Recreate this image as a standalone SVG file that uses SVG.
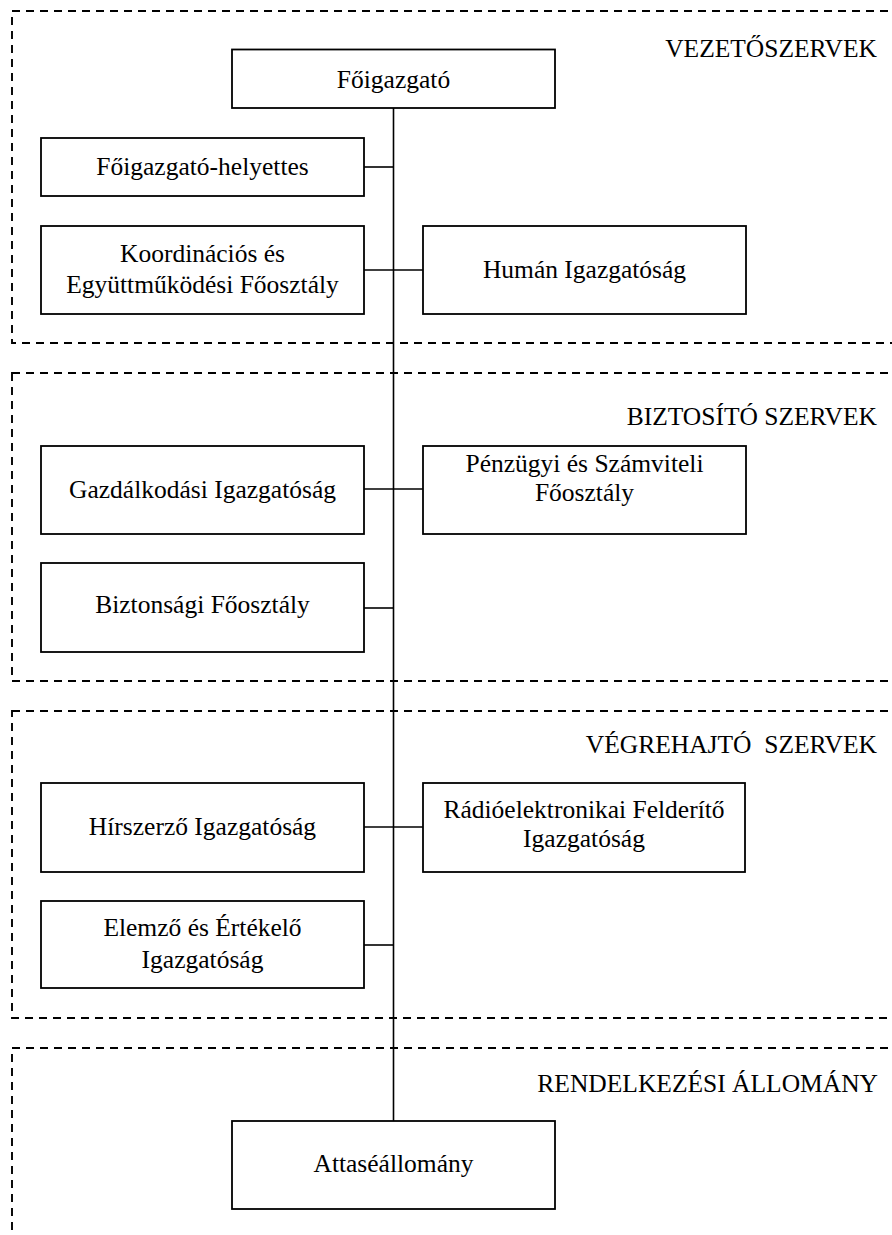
<svg xmlns="http://www.w3.org/2000/svg" width="892" height="1235" viewBox="0 0 892 1235">
<style>
.sec{fill:none;stroke:#000;stroke-width:1.9;stroke-dasharray:8 6}
.box{fill:#fff;stroke:#000;stroke-width:1.8}
.ln{fill:none;stroke:#000;stroke-width:1.6}
text{font-family:"Liberation Serif","Times New Roman",serif;font-size:25.5px;fill:#000}
.c{text-anchor:middle}
.r{text-anchor:end}
</style>
<rect width="892" height="1235" fill="#fff"/>
<g id="sections">
<rect class="sec" x="12" y="11" width="900" height="332"/>
<rect class="sec" x="12" y="373" width="900" height="308"/>
<rect class="sec" x="12" y="711" width="900" height="307"/>
<rect class="sec" x="12" y="1048" width="900" height="220"/>
<text class="r" x="877" y="57">VEZETŐSZERVEK</text>
<text class="r" x="877" y="425">BIZTOSÍTÓ SZERVEK</text>
<text class="r" x="877" y="753" xml:space="preserve">VÉGREHAJTÓ  SZERVEK</text>
<text class="r" x="878" y="1092">RENDELKEZÉSI ÁLLOMÁNY</text>
</g>
<g id="connectors">
<line class="ln" x1="393.5" y1="108" x2="393.5" y2="1121"/>
<line class="ln" x1="364" y1="167" x2="393.5" y2="167"/>
<line class="ln" x1="364" y1="270" x2="423" y2="270"/>
<line class="ln" x1="364" y1="489" x2="423" y2="489"/>
<line class="ln" x1="364" y1="608" x2="393.5" y2="608"/>
<line class="ln" x1="364" y1="827" x2="423" y2="827"/>
<line class="ln" x1="364" y1="945" x2="393.5" y2="945"/>
</g>
<g id="n-foigazgato">
<rect class="box" x="232" y="49.5" width="323" height="58.5"/>
<text class="c" x="393.5" y="88">Főigazgató</text>
</g>
<g id="n-helyettes">
<rect class="box" x="41" y="138" width="323" height="58"/>
<text class="c" x="202.5" y="175">Főigazgató-helyettes</text>
</g>
<g id="n-koordinacios">
<rect class="box" x="41" y="226" width="323" height="88"/>
<text class="c" x="202.5" y="262">Koordinációs és</text>
<text class="c" x="202.5" y="293">Együttműködési Főosztály</text>
</g>
<g id="n-human">
<rect class="box" x="423" y="226" width="323" height="88"/>
<text class="c" x="584.5" y="278">Humán Igazgatóság</text>
</g>
<g id="n-gazdalkodasi">
<rect class="box" x="41" y="446" width="323" height="88"/>
<text class="c" x="202.5" y="498">Gazdálkodási Igazgatóság</text>
</g>
<g id="n-penzugyi">
<rect class="box" x="423" y="446" width="323" height="88"/>
<text class="c" x="584.5" y="472">Pénzügyi és Számviteli</text>
<text class="c" x="584.5" y="501">Főosztály</text>
</g>
<g id="n-biztonsagi">
<rect class="box" x="41" y="563" width="323" height="89"/>
<text class="c" x="202.5" y="613">Biztonsági Főosztály</text>
</g>
<g id="n-hirszerzo">
<rect class="box" x="41" y="783" width="323" height="89"/>
<text class="c" x="202.5" y="835">Hírszerző Igazgatóság</text>
</g>
<g id="n-radioelektronikai">
<rect class="box" x="423" y="783" width="322" height="89"/>
<text class="c" x="584" y="818">Rádióelektronikai Felderítő</text>
<text class="c" x="584" y="847">Igazgatóság</text>
</g>
<g id="n-elemzo">
<rect class="box" x="41" y="901" width="323" height="87"/>
<text class="c" x="202.5" y="936">Elemző és Értékelő</text>
<text class="c" x="202.5" y="968">Igazgatóság</text>
</g>
<g id="n-attase">
<rect class="box" x="232" y="1121" width="323" height="88"/>
<text class="c" x="393.5" y="1172">Attaséállomány</text>
</g>
</svg>
